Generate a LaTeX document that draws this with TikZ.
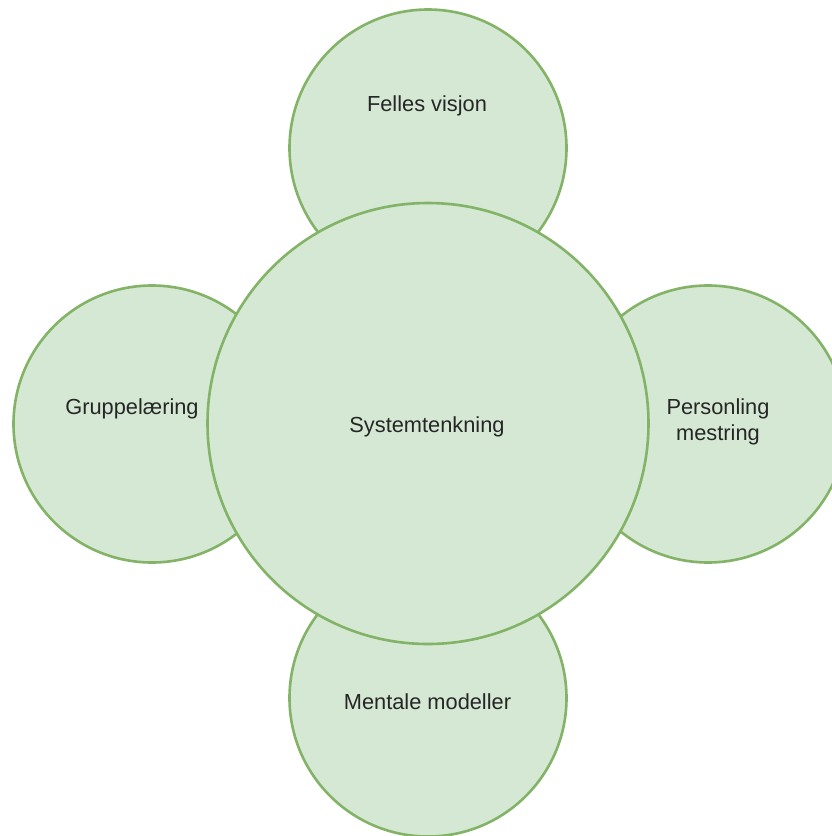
\documentclass[tikz,border=0pt]{standalone}
\usepackage{fontspec}
\setmainfont{Liberation Sans}
\definecolor{discfill}{HTML}{D5E8D4}
\definecolor{discline}{HTML}{82B366}
\begin{document}
\begin{tikzpicture}[x=1pt,y=-1pt,
  disc/.style={circle,draw=discline,fill=discfill,line width=2.6pt,inner sep=0pt},
  lbl/.style={font=\fontsize{21.8}{26}\selectfont,text=black!85,align=center,inner sep=0pt}]
  \useasboundingbox (0,0) rectangle (832,836);
  \clip (0,0) rectangle (832,836);
  % outer discs
  \node[disc,minimum size=277pt] (top) at (428,148) {};
  \node[disc,minimum size=277pt] (bottom) at (428,698) {};
  \node[disc,minimum size=277pt] (left) at (152,424) {};
  \node[disc,minimum size=277pt] (right) at (708,424) {};
  % central disc on top
  \node[disc,minimum size=441pt] (centre) at (428,423.5) {};
  % labels
  \node[lbl] (ttop) at (427,106) {Felles visjon};
  \node[lbl] (tbottom) at (427.5,702) {Mentale modeller};
  \node[lbl] (tleft) at (132,409) {Gruppelæring};
  \node[lbl] (tright) at (718,422) {Personling\\mestring};
  \node[lbl] (tcentre) at (427,427) {Systemtenkning};
\end{tikzpicture}
\end{document}
